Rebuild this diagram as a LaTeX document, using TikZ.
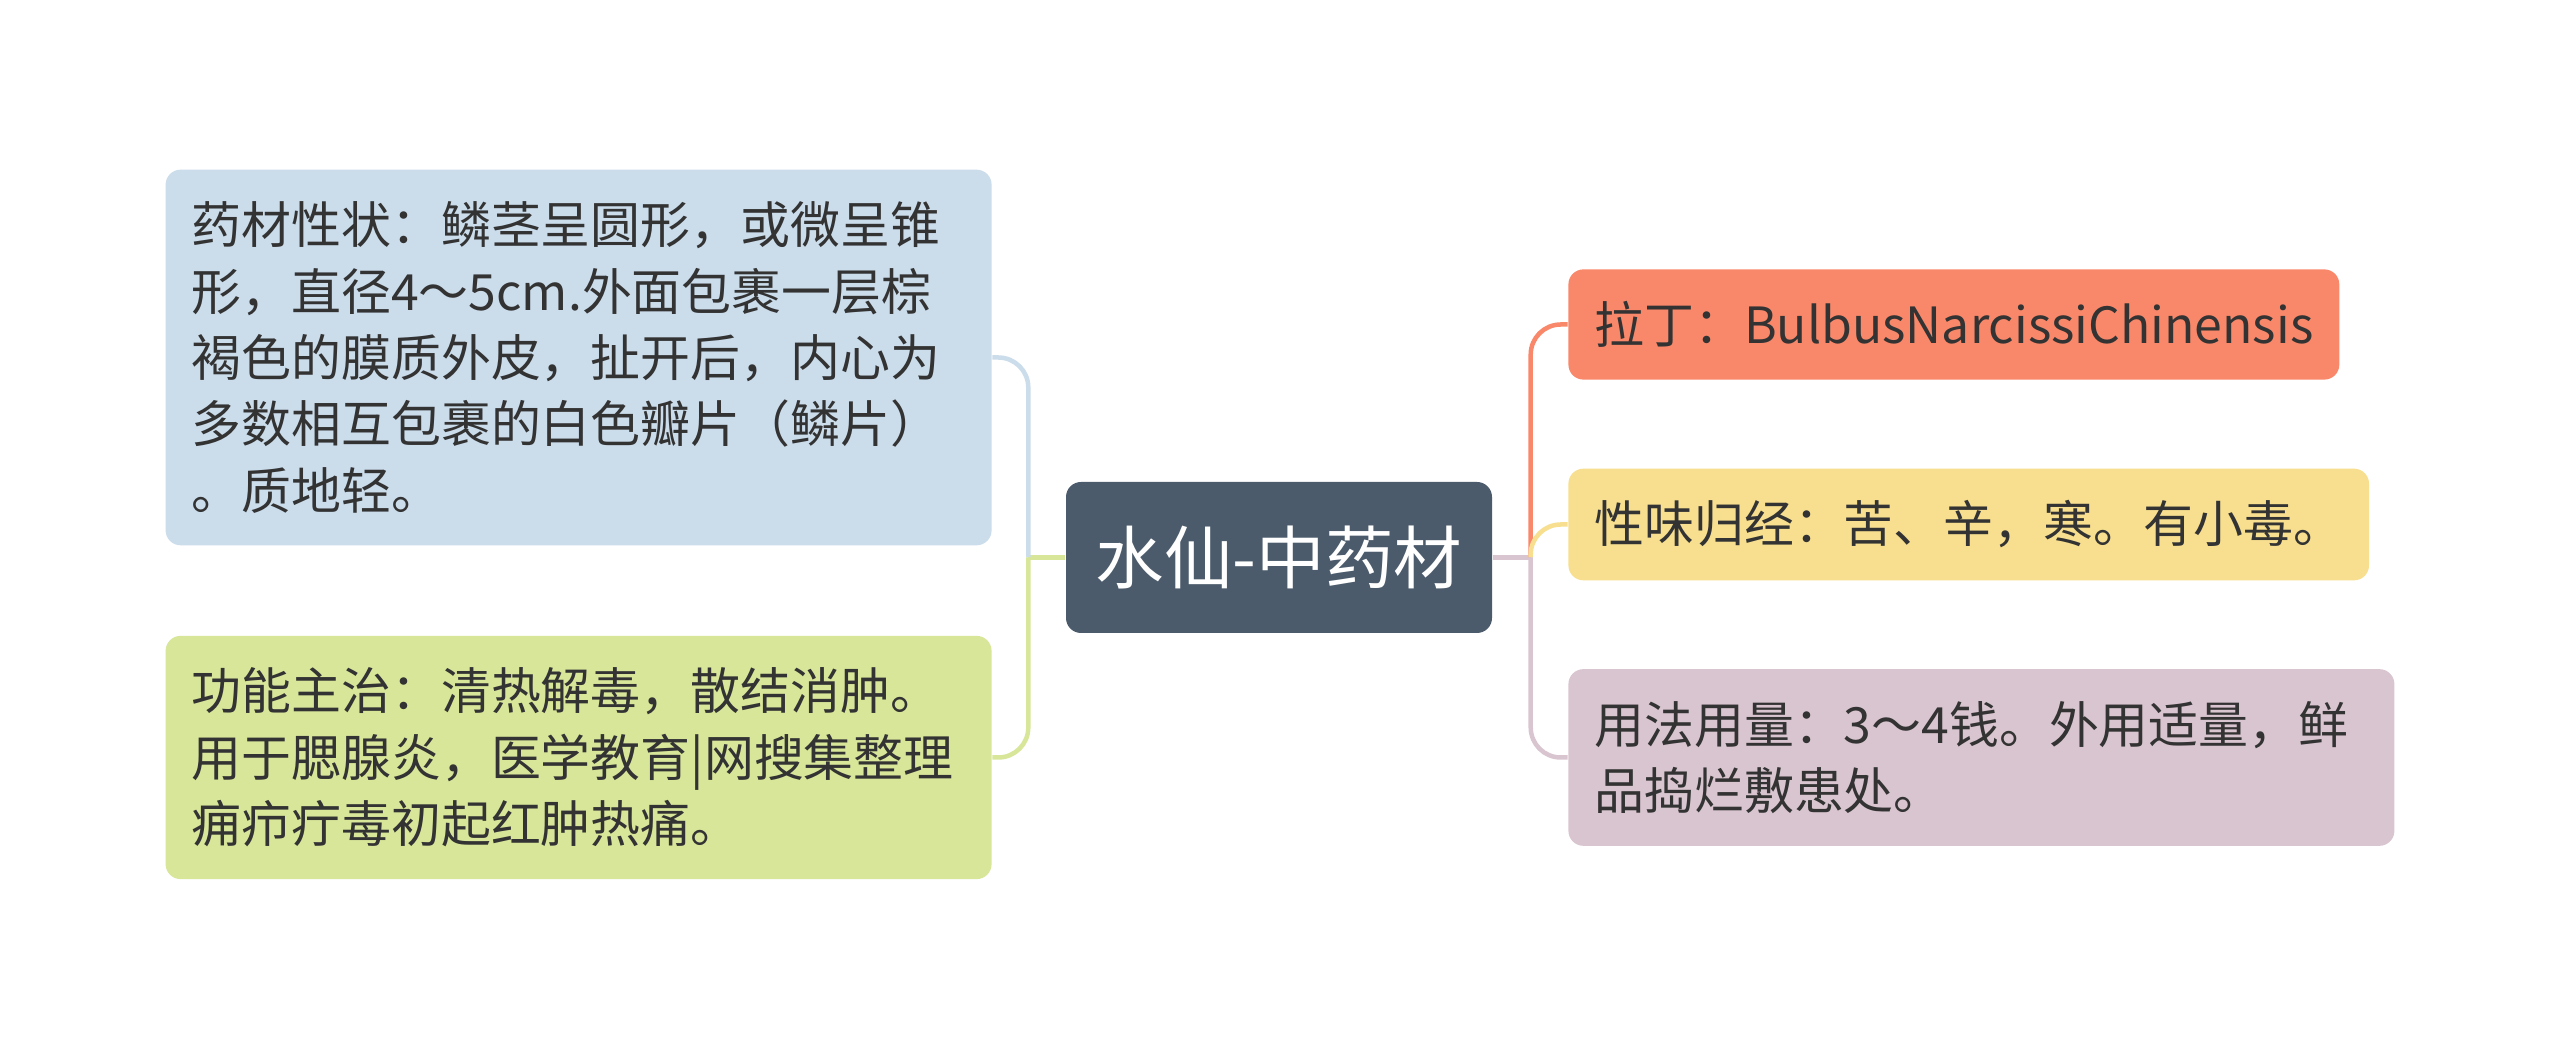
\documentclass[tikz,border=0pt]{standalone}
\usepackage{fontspec}
\setmainfont{Noto Sans CJK SC}
\usetikzlibrary{positioning}

\definecolor{rootfill}{HTML}{4B5B6B}
\definecolor{textgray}{HTML}{333333}
\definecolor{bluefill}{HTML}{CBDCEB}
\definecolor{greenfill}{HTML}{D8E69A}
\definecolor{orangefill}{HTML}{F9886A}
\definecolor{yellowfill}{HTML}{F7DF8F}
\definecolor{mauvefill}{HTML}{D9C5CF}

\begin{document}
\begin{tikzpicture}[
        node distance=0.75cm,
        leaf/.style={rectangle, rounded corners=0.15cm, inner xsep=0.26cm, inner ysep=0.32cm, text=textgray, font=\fontsize{14.2pt}{18.9pt}\selectfont},
        wide/.style={leaf, text width=7.74cm, align=left},
        root/.style={rectangle, rounded corners=0.15cm, fill=rootfill, text=white, font=\fontsize{19.5pt}{24pt}\selectfont, minimum width=4.26cm, minimum height=1.51cm},
        link/.style={line width=0.045cm, rounded corners=0.3cm},
    ]

    \fill[white] (0,0) rectangle (25.6,-10.49);
    \useasboundingbox (0,0) rectangle (25.6,-10.49);

    % ----- Root -----
    \node[root] (root) at (12.79,-5.575) {水仙-中药材};

    % ----- Left branch -----
    \node[wide, fill=bluefill, left=0.73cm of root, yshift=2cm] (shape) {药材性状：鳞茎呈圆形，或微呈锥\\形，直径4～5cm.外面包裹一层棕\\褐色的膜质外皮，扯开后，内心为\\多数相互包裹的白色瓣片（鳞片）\\。质地轻。};
    \node[wide, fill=greenfill, left=0.73cm of root, yshift=-2cm] (effect) {功能主治：清热解毒，散结消肿。\\用于腮腺炎，医学教育|网搜集整理\\痈疖疔毒初起红肿热痛。};

    % ----- Right branch -----
    \node[leaf, fill=orangefill, right=0.75cm of root, yshift=2.33cm] (latin) {拉丁：BulbusNarcissiChinensis};
    \node[leaf, fill=yellowfill, right=0.75cm of root, yshift=0.33cm] (taste) {性味归经：苦、辛，寒。有小毒。};
    \node[wide, fill=mauvefill, right=0.75cm of root, yshift=-2cm] (usage) {用法用量：3～4钱。外用适量，鲜\\品捣烂敷患处。};

    % ----- Connectors -----
    \coordinate (lhub) at ([xshift=-0.37cm]root.west);
    \coordinate (rhub) at ([xshift=0.38cm]root.east);

    \draw[link, greenfill] (root.west) -- (lhub);
    \draw[link, bluefill] (lhub) |- (shape.east);
    \draw[link, greenfill] (lhub) |- (effect.east);

    \draw[link, mauvefill] (root.east) -- (rhub);
    \draw[link, orangefill] (rhub) |- (latin.west);
    \draw[link, yellowfill] (rhub) |- (taste.west);
    \draw[link, mauvefill] (rhub) |- (usage.west);

\end{tikzpicture}
\end{document}
